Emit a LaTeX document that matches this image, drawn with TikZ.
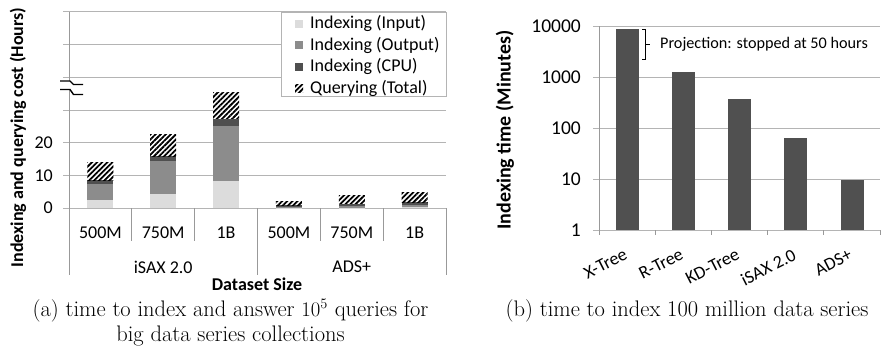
\documentclass[tikz,border=0pt]{standalone}
\usepackage{fontspec}
\newfontfamily\calfont{Carlito}
\usetikzlibrary{patterns.meta}
\definecolor{gridc}{HTML}{B4B4B4}
\definecolor{inputc}{HTML}{DCDCDC}
\definecolor{outputc}{HTML}{8C8C8C}
\definecolor{cpuc}{HTML}{4F4F4F}
\definecolor{barc}{HTML}{505050}
\newcommand\stackbar[5]{%
  \fill[inputc] ({#1-13},208) rectangle ({#1+13},{208-3.267*#2});
  \fill[outputc] ({#1-13},{208-3.267*#2}) rectangle ({#1+13},{208-3.267*#3});
  \fill[cpuc] ({#1-13},{208-3.267*#3}) rectangle ({#1+13},{208-3.267*#4});
  \fill[white] ({#1-13},{208-3.267*#4}) rectangle ({#1+13},{208-3.267*#5});
  \pattern[hatch] ({#1-13},{208-3.267*#4}) rectangle ({#1+13},{208-3.267*#5});
}
\begin{document}
\begin{tikzpicture}[x=1pt,y=-1pt,
  gridline/.style={draw=gridc,line width=1pt},
  axisline/.style={draw=gridc!85!black,line width=1pt},
  hatch/.style={pattern={Lines[angle=45,distance=3.6pt,line width=1.8pt]},pattern color=black},
  lbl/.style={font=\calfont\fontsize{18}{20}\selectfont,inner sep=0pt},
  rlbl/.style={font=\calfont\fontsize{19.5}{22}\selectfont,inner sep=0pt},
  blbl/.style={font=\calfont\bfseries\fontsize{18}{20}\selectfont,inner sep=0pt},
  rblbl/.style={font=\calfont\bfseries\fontsize{20}{22}\selectfont,inner sep=0pt},
  captxt/.style={font=\fontsize{22.5}{25}\selectfont,inner sep=0pt,anchor=base},
  swatch/.style={minimum size=8pt,inner sep=0pt},
]
\useasboundingbox (0,0) rectangle (889,351);

% ---------------- left chart ----------------
\foreach \v in {0,...,6}
  \draw[gridline] (63,{208-32.667*\v}) -- (446,{208-32.667*\v});
% bars
\stackbar{100.4}{2.6}{7.2}{8.5}{13.8}
\stackbar{163.2}{4.4}{14.4}{15.9}{22.4}
\stackbar{226}{8.3}{25}{27.3}{35.4}
\stackbar{288.9}{0.1}{0.35}{0.8}{2.1}
\stackbar{351.8}{0.1}{0.6}{1.3}{3.9}
\stackbar{414.6}{0.2}{0.9}{1.8}{4.7}
% axis and separators
\draw[axisline] (69,12) -- (69,275);
\foreach \xx in {131.8,194.7,320.3,383.2}
  \draw[axisline] (\xx,208) -- (\xx,241);
\foreach \xx in {257.5,446}
  \draw[axisline] (\xx,208) -- (\xx,275);
% axis break
\fill[white] (60,81) -- (70,81) -- (73.5,84.5) -- (83,84.5) -- (83,94.5) -- (73.5,94.5) -- (70,89.5) -- (60,89.5) -- cycle;
\draw[line width=1.4pt] (60,81) -- (70,81) -- (73.5,84.5) -- (83,84.5);
\draw[line width=1.4pt] (60,89.5) -- (70,89.5) -- (73.5,94.5) -- (83,94.5);
% tick labels
\node[lbl,anchor=east] (t0) at (53,208) {0};
\node[lbl,anchor=east] (t10) at (53,175.3) {10};
\node[lbl,anchor=east] (t20) at (53,142.7) {20};
% category labels
\node[lbl] (c1) at (100.4,233) {500M};
\node[lbl] (c2) at (163.2,233) {750M};
\node[lbl] (c3) at (226,233) {1B};
\node[lbl] (c4) at (288.9,233) {500M};
\node[lbl] (c5) at (351.8,233) {750M};
\node[lbl] (c6) at (414.6,233) {1B};
\node[lbl] (g1) at (163.2,267) {iSAX 2.0};
\node[lbl] (g2) at (351.8,267) {ADS+};
\node[blbl] (xl) at (257,284) {Dataset Size};
\node[blbl,rotate=90] (yl) at (18,137.5) {Indexing and querying cost (Hours)};
% legend
\draw[draw=gridc,fill=white,line width=1pt] (281.7,12) rectangle (446,96.5);
\node[swatch,fill=inputc] (s1) at (299,23.5) {};
\node[swatch,fill=outputc] (s2) at (299,45) {};
\node[swatch,fill=cpuc] (s3) at (299,66.5) {};
\node[swatch,hatch] (s4) at (299,88) {};
\node[lbl,anchor=west] (l1) at (310,23.5) {Indexing (Input)};
\node[lbl,anchor=west] (l2) at (310,45) {Indexing (Output)};
\node[lbl,anchor=west] (l3) at (310,66.5) {Indexing (CPU)};
\node[lbl,anchor=west] (l4) at (310,88) {Querying (Total)};

% ---------------- right chart ----------------
\foreach \yy in {26,77,128,179,230}
  \draw[gridline] (593,\yy) -- (880,\yy);
\draw[axisline] (599,26) -- (599,230);
\foreach \xx in {599,655.2,711.4,767.6,823.8,880}
  \draw[axisline] (\xx,230) -- (\xx,235);
\node[rlbl,anchor=east] (r4) at (581,26) {10000};
\node[rlbl,anchor=east] (r3) at (581,77) {1000};
\node[rlbl,anchor=east] (r2) at (581,128) {100};
\node[rlbl,anchor=east] (r1) at (581,179) {10};
\node[rlbl,anchor=east] (r0) at (581,230) {1};
% bars
\fill[barc] (616,230) rectangle (639,29);
\fill[barc] (672,230) rectangle (695,72);
\fill[barc] (728,230) rectangle (751,99);
\fill[barc] (784,230) rectangle (807,138);
\fill[barc] (840.5,230) rectangle (863.5,180);
% brace and note
\draw[line width=0.9pt] (642,29.5) -- (645.5,29.5) -- (645.5,59.5) -- (642,59.5);
\draw[line width=0.9pt] (645.5,44.5) -- (649.5,44.5);
\node[font=\calfont\fontsize{16.2}{18}\selectfont,inner sep=0pt,anchor=west] (note) at (660,44.5) {Projection: stopped at 50 hours};
% category labels
\foreach \cx/\nm/\txt in {627.1/xa/X-Tree,683.3/xb/R-Tree,739.5/xc/KD-Tree,795.7/xd/iSAX 2.0,851.9/xe/ADS+}
  \node[lbl,rotate=27,anchor=north east] (\nm) at (\cx-4,248) {\txt};
\node[rblbl,rotate=90] (ryl) at (505,130) {Indexing time (Minutes)};

% ---------------- captions ----------------
\node[captxt] (capa1) at (230.5,316.5) {(a) time to index and answer $10^5$ queries for};
\node[captxt] (capa2) at (230.5,341.5) {big data series collections};
\node[captxt] (capb) at (687,316.5) {(b) time to index 100 million data series};
\end{tikzpicture}
\end{document}
